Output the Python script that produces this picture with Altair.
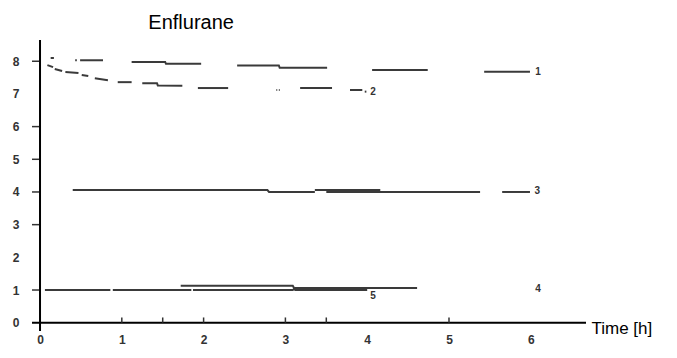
import altair as alt
import pandas as pd

# ---- traces: segment id, time [h], value ----
s1_seg = [0, 0, 1, 1, 2, 2, 3, 3, 3, 3, 4, 4, 4, 4, 5, 5, 6, 6]
s1_x = [0.13, 0.17, 0.43, 0.45, 0.49, 0.77, 1.12, 1.53, 1.54, 1.97, 2.41, 2.92, 2.93, 3.51, 4.06, 4.74, 5.43, 5.99]
s1_y = [8.10, 8.10, 8.03, 8.03, 8.03, 8.03, 7.98, 7.98, 7.92, 7.92, 7.87, 7.87, 7.80, 7.80, 7.73, 7.73, 7.68, 7.68]

s2_seg = [0, 0, 1, 1, 2, 2, 3, 3, 4, 4, 5, 5, 6, 6, 6, 6, 7, 7, 8, 8, 9, 9, 10, 10, 11, 11, 12, 12]
s2_x = [0.09, 0.16, 0.18, 0.27, 0.31, 0.47, 0.51, 0.59, 0.67, 0.83, 0.95, 1.12, 1.25, 1.43, 1.44, 1.74,
        1.93, 2.30, 2.89, 2.90, 2.92, 2.93, 3.18, 3.57, 3.79, 3.94, 3.97, 3.99]
s2_y = [7.88, 7.82, 7.76, 7.70, 7.67, 7.64, 7.58, 7.55, 7.48, 7.42, 7.36, 7.36, 7.33, 7.33, 7.26, 7.25,
        7.18, 7.18, 7.12, 7.12, 7.12, 7.12, 7.18, 7.18, 7.12, 7.12, 7.07, 7.07]

s3_seg = [0, 0, 0, 0, 1, 1, 2, 2, 3, 3]
s3_x = [0.40, 2.78, 2.80, 3.36, 3.36, 4.16, 3.50, 5.38, 5.65, 5.99]
s3_y = [4.06, 4.06, 4.00, 4.00, 4.06, 4.06, 4.00, 4.00, 4.00, 4.00]

s4_seg = [0, 0, 1, 1, 2, 2, 2, 2]
s4_x = [0.06, 0.86, 0.89, 1.85, 1.87, 3.09, 3.12, 4.61]
s4_y = [1.00, 1.00, 1.00, 1.00, 1.00, 1.00, 1.06, 1.06]

s5_seg = [0, 0, 0, 0]
s5_x = [1.72, 3.09, 3.12, 4.00]
s5_y = [1.13, 1.13, 1.00, 1.00]

# curve labels
lab_text = ["1", "2", "3", "4", "5"]
lab_x = [6.09, 4.07, 6.08, 6.09, 4.07]
lab_y = [7.67, 7.05, 4.03, 1.03, 0.82]

x_labels = [0, 1, 2, 3, 4, 5, 6]
y_labels = [0, 1, 2, 3, 4, 5, 6, 7, 8]
x_ticks = [1, 1.5, 2, 3, 3.5, 5]
y_ticks = [8, 6, 5, 4, 3, 1]

X_DOMAIN = [-0.098, 6.675]
Y_DOMAIN = [-0.254, 8.65]
W, H = 554, 291

rows = []
for name, seg, xs, ys in [("1", s1_seg, s1_x, s1_y), ("2", s2_seg, s2_x, s2_y),
                          ("3", s3_seg, s3_x, s3_y), ("4", s4_seg, s4_x, s4_y),
                          ("5", s5_seg, s5_x, s5_y)]:
    for i, (g, xv, yv) in enumerate(zip(seg, xs, ys)):
        rows.append({"key": f"{name}-{g}", "i": i, "t": xv, "v": yv})
df = pd.DataFrame(rows)

FONT = "Liberation Sans"
xs = alt.Scale(domain=X_DOMAIN, nice=False, zero=False)
ys = alt.Scale(domain=Y_DOMAIN, nice=False, zero=False)

xaxis = alt.Axis(values=x_labels, ticks=False, tickSize=0, domain=False, grid=False,
                 labelPadding=3, labelFontSize=12, labelFont=FONT, labelFontWeight="bold",
                 labelColor="#333333", format="d", labelOverlap=False,
                 title="Time [h]", titleX=559, titleY=2, titleAlign="left",
                 titleBaseline="alphabetic", titleFontSize=17, titleFont=FONT,
                 titleFontWeight="normal", titleColor="#000000")
yaxis = alt.Axis(values=y_labels, ticks=False, tickSize=0, domain=False, grid=False,
                 labelPadding=13, labelFontSize=12, labelFont=FONT, labelFontWeight="bold",
                 labelColor="#333333", format="d", labelOverlap=False, title="")

lines = alt.Chart(df).mark_line(color="#3a3a3a", strokeWidth=2).encode(
    x=alt.X("t:Q", scale=xs, axis=xaxis),
    y=alt.Y("v:Q", scale=ys, axis=yaxis),
    detail="key:N",
    order="i:Q",
)

xline = alt.Chart(pd.DataFrame({"a": [0]})).mark_rule(color="#000000", strokeWidth=2).encode(
    x=alt.value(0), x2=alt.value(W), y=alt.datum(0, scale=ys, axis=yaxis))
yline = alt.Chart(pd.DataFrame({"a": [0]})).mark_rule(color="#000000", strokeWidth=2).encode(
    y=alt.value(0), y2=alt.value(H), x=alt.datum(0, scale=xs, axis=xaxis))

xt = alt.Chart(pd.DataFrame({"t": x_ticks})).mark_rule(color="#333333", strokeWidth=1.5).encode(
    x=alt.X("t:Q", scale=xs, axis=xaxis), y=alt.datum(0, scale=ys, axis=yaxis), y2=alt.datum(0.16))
yt = alt.Chart(pd.DataFrame({"v": y_ticks})).mark_rule(color="#333333", strokeWidth=1.5).encode(
    y=alt.Y("v:Q", scale=ys, axis=yaxis), x=alt.value(0), x2=alt.value(7))

labels = alt.Chart(pd.DataFrame({"s": lab_text, "t": lab_x, "v": lab_y})).mark_text(
    font=FONT, fontSize=10, fontWeight="bold", color="#333333", align="center", baseline="middle"
).encode(x=alt.X("t:Q", scale=xs, axis=xaxis), y=alt.Y("v:Q", scale=ys, axis=yaxis), text="s:N")

chart = alt.layer(lines, xline, yline, xt, yt, labels).properties(
    width=W, height=H,
    background="white",
    title=alt.Title("Enflurane", anchor="start", dx=136, offset=6, fontSize=20,
                    font=FONT, fontWeight="normal", color="#000000"),
    autosize=alt.AutoSizeParams(type="none"),
    padding={"left": 24, "top": 32, "right": 80, "bottom": 18},
).configure_view(strokeWidth=0, stroke="transparent")

chart.save("out.html", embed_options={"renderer": "svg", "actions": False})
